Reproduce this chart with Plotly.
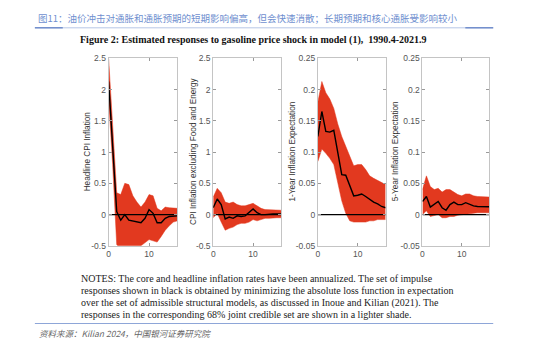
import plotly.graph_objects as go

# Impulse horizons (months)
horizon = list(range(18))

# Headline CPI inflation
headline_point = [2.13, 1.10, 0.05, -0.09, 0.00, -0.09, -0.10, -0.12, -0.13, -0.06, 0.08, 0.02, -0.13, -0.13, -0.06, -0.03, -0.02, -0.02]
headline_upper = [2.50, 1.45, 0.35, 0.32, 0.50, 0.48, 0.30, 0.20, 0.12, 0.20, 0.32, 0.30, 0.10, 0.06, 0.12, 0.11, 0.11, 0.10]
headline_lower = [1.85, 0.80, -0.48, -0.55, -0.55, -0.52, -0.55, -0.55, -0.50, -0.45, -0.40, -0.42, -0.44, -0.35, -0.25, -0.18, -0.12, -0.10]

# Core CPI inflation (excluding food and energy)
core_point = [0.11, 0.25, 0.16, -0.07, -0.04, -0.06, -0.02, -0.03, -0.02, 0.03, 0.09, 0.03, 0.00, 0.00, 0.01, 0.01, 0.01, 0.01]
core_upper = [0.28, 0.42, 0.35, 0.20, 0.18, 0.20, 0.16, 0.14, 0.14, 0.16, 0.18, 0.14, 0.10, 0.08, 0.08, 0.08, 0.07, 0.07]
core_lower = [-0.05, 0.02, -0.12, -0.25, -0.22, -0.20, -0.16, -0.14, -0.14, -0.12, -0.08, -0.10, -0.08, -0.06, -0.06, -0.05, -0.05, -0.05]

# 1-year inflation expectation
exp1_point = [0.125, 0.165, 0.133, 0.132, 0.135, 0.099, 0.064, 0.063, 0.047, 0.030, 0.031, 0.033, 0.029, 0.024, 0.020, 0.017, 0.013, 0.011]
exp1_upper = [0.180, 0.213, 0.195, 0.185, 0.170, 0.145, 0.125, 0.110, 0.095, 0.078, 0.080, 0.080, 0.072, 0.062, 0.058, 0.055, 0.052, 0.048]
exp1_lower = [0.085, 0.105, 0.098, 0.090, 0.080, 0.050, 0.022, 0.002, -0.010, -0.012, -0.012, -0.012, -0.012, -0.010, -0.010, -0.008, -0.008, -0.008]

# 5-year inflation expectation
exp5_point = [0.021, 0.029, 0.012, 0.016, 0.021, 0.011, 0.007, 0.016, 0.020, 0.016, 0.016, 0.019, 0.016, 0.014, 0.013, 0.013, 0.013, 0.0125]
exp5_upper = [0.040, 0.062, 0.045, 0.040, 0.042, 0.036, 0.040, 0.040, 0.036, 0.032, 0.030, 0.033, 0.033, 0.030, 0.029, 0.029, 0.028, 0.028]
exp5_lower = [0.000, 0.006, -0.003, -0.002, 0.000, -0.005, -0.005, -0.003, -0.003, -0.001, 0.000, 0.001, 0.002, 0.003, 0.003, 0.003, 0.003, 0.003]

panel_titles = ["Headline CPI Inflation", "CPI Inflation excluding Food and Energy",
                "1-Year Inflation Expectation", "5-Year Inflation Expectation"]

cpi_ticks = [-0.5, 0, 0.5, 1, 1.5, 2, 2.5]
cpi_ticktext = ["-0.5", "0", "0.5", "1", "1.5", "2", "2.5"]
exp_ticks = [-0.05, 0, 0.05, 0.1, 0.15, 0.2, 0.25]
exp_ticktext = ["-0.05", "0", "0.05", "0.1", "0.15", "0.2", "0.25"]
x_ticks = [0, 10]

W, H = 554, 346
BAND = "#e2391f"

panels = [
    (headline_point, headline_upper, headline_lower, cpi_ticks, cpi_ticktext, (107, 176)),
    (core_point, core_upper, core_lower, cpi_ticks, cpi_ticktext, (212, 280)),
    (exp1_point, exp1_upper, exp1_lower, exp_ticks, exp_ticktext, (317, 385)),
    (exp5_point, exp5_upper, exp5_lower, exp_ticks, exp_ticktext, (422, 489)),
]
label_x = [86, 192, 292, 395]

plot_top, plot_bottom = 55, 248

fig = go.Figure()
layout = {}
annotations = []

for i, (pt, up, lo, yt, ytt, (x0, x1)) in enumerate(panels):
    n = "" if i == 0 else str(i + 1)
    xa, ya = "x" + n, "y" + n
    # credible set band
    fig.add_trace(go.Scatter(x=horizon, y=lo, xaxis=xa, yaxis=ya, mode="lines",
                             line=dict(color=BAND, width=0.5), showlegend=False,
                             hoverinfo="skip"))
    fig.add_trace(go.Scatter(x=horizon, y=up, xaxis=xa, yaxis=ya, mode="lines",
                             line=dict(color=BAND, width=0.5), fill="tonexty",
                             fillcolor=BAND, showlegend=False, hoverinfo="skip"))
    # zero reference line
    fig.add_trace(go.Scatter(x=[0, 17], y=[0, 0], xaxis=xa, yaxis=ya, mode="lines",
                             line=dict(color="black", width=1.4), showlegend=False,
                             hoverinfo="skip"))
    # point estimate
    fig.add_trace(go.Scatter(x=horizon, y=pt, xaxis=xa, yaxis=ya, mode="lines",
                             line=dict(color="black", width=1.4), showlegend=False))

    common = dict(showline=True, linecolor="#c4c4c4", linewidth=1, mirror="ticks",
                  ticks="inside", ticklen=3, tickcolor="#9a9a9a", showgrid=False,
                  zeroline=False, tickfont=dict(family="Liberation Sans", size=8.5, color="#555"))
    layout["xaxis" + n] = dict(domain=[x0 / W, x1 / W], range=[0, 17], anchor=ya,
                               tickvals=x_ticks, ticktext=[str(v) for v in x_ticks], **common)
    layout["yaxis" + n] = dict(domain=[1 - plot_bottom / H, 1 - plot_top / H],
                               range=[yt[0], yt[-1]], anchor=xa,
                               tickvals=yt, ticktext=ytt, **common)
    annotations.append(dict(text=panel_titles[i], x=label_x[i] / W, y=1 - 151 / H,
                            xref="paper", yref="paper", textangle=-90, showarrow=False,
                            xanchor="center", yanchor="middle",
                            font=dict(family="Liberation Sans", size=8.2, color="#333")))

# header
annotations.append(dict(text="图11：油价冲击对通胀和通胀预期的短期影响偏高，但会快速消散；长期预期和核心通胀受影响较小",
                        x=34 / W, y=1 - 13 / H, xref="paper", yref="paper", showarrow=False,
                        xanchor="left", yanchor="middle",
                        font=dict(family="Noto Sans CJK SC", size=9.5, color="#6f8fcf")))
annotations.append(dict(text="<b>Figure 2: Estimated responses to gasoline price shock in model (1),  1990.4-2021.9</b>",
                        x=252 / W, y=1 - 36 / H, xref="paper", yref="paper", showarrow=False,
                        xanchor="center", yanchor="middle",
                        font=dict(family="Liberation Serif", size=10, color="#111")))

notes = [
    "NOTES: The core and headline inflation rates have been annualized. The set of impulse",
    "responses shown in black is obtained by minimizing the absolute loss function in expectation",
    "over the set of admissible structural models, as discussed in Inoue and Kilian (2021). The",
    "responses in the corresponding 68% joint credible set are shown in a lighter shade.",
]
for k, line in enumerate(notes):
    annotations.append(dict(text=line, x=77 / W, y=1 - (282 + 12.2 * k) / H,
                            xref="paper", yref="paper", showarrow=False,
                            xanchor="left", yanchor="middle",
                            font=dict(family="Liberation Serif", size=10, color="#222")))

annotations.append(dict(text="<i>资料来源：Kilian 2024，中国银河证券研究院</i>",
                        x=35 / W, y=1 - 338 / H, xref="paper", yref="paper", showarrow=False,
                        xanchor="left", yanchor="middle",
                        font=dict(family="Noto Sans CJK SC", size=8.5, color="#666")))

shapes = [
    dict(type="line", xref="paper", yref="paper", x0=33 / W, x1=493 / W,
         y0=1 - 23.5 / H, y1=1 - 23.5 / H, line=dict(color="#b7c6e6", width=1)),
    dict(type="line", xref="paper", yref="paper", x0=33 / W, x1=61 / W,
         y0=1 - 23.5 / H, y1=1 - 23.5 / H, line=dict(color="#5b7cc4", width=1.2)),
    dict(type="line", xref="paper", yref="paper", x0=465 / W, x1=493 / W,
         y0=1 - 23.5 / H, y1=1 - 23.5 / H, line=dict(color="#5b7cc4", width=1.2)),
    dict(type="line", xref="paper", yref="paper", x0=33 / W, x1=493 / W,
         y0=1 - 328 / H, y1=1 - 328 / H, line=dict(color="#8ea6d8", width=1.2)),
]

fig.update_layout(width=W, height=H, margin=dict(l=0, r=0, t=0, b=0),
                  paper_bgcolor="white", plot_bgcolor="white",
                  annotations=annotations, shapes=shapes, **layout)

fig.write_html("out.html")
